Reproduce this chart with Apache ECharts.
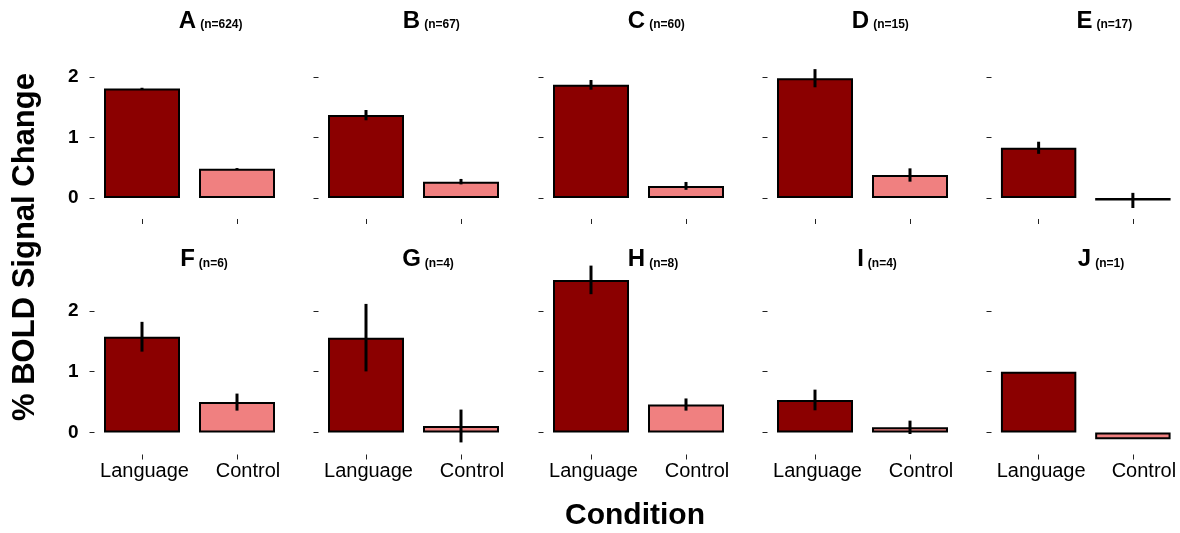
<!DOCTYPE html>
<html>
<head>
<meta charset="utf-8">
<title>% BOLD Signal Change by Condition</title>
<script src="https://cdn.jsdelivr.net/npm/echarts@6/dist/echarts.min.js"></script>
<style>
  html, body { margin: 0; padding: 0; background: #fff; }
  #chart { width: 1180px; height: 533px; }
</style>
</head>
<body>
<div id="chart"></div>
<script>
// ---- data ----
const categories = ['Language', 'Control'];
const panelLetters = ['A', 'B', 'C', 'D', 'E', 'F', 'G', 'H', 'I', 'J'];
const panelCounts = [624, 67, 60, 15, 17, 6, 4, 8, 4, 1];
const languageMean = [1.81, 1.37, 1.87, 1.98, 0.83, 1.575, 1.56, 2.51, 0.535, 1.0];
const languageErr = [0.012, 0.085, 0.08, 0.15, 0.1, 0.245, 0.555, 0.235, 0.17, 0];
const controlMean = [0.485, 0.27, 0.2, 0.38, -0.04, 0.50, 0.107, 0.46, 0.085, -0.11];
const controlErr = [0.01, 0.045, 0.065, 0.11, 0.125, 0.14, 0.27, 0.1, 0.11, 0];
const yTickValues = [0, 1, 2];

// ---- layout ----
const FONT = '"Liberation Sans", Arial, Helvetica, sans-serif';
const LANG_COLOR = '#8B0000';
const CTRL_COLOR = '#F08080';
const colLeft = [94.5, 318.5, 543.5, 767.5, 991.5];
const colWidth = 190;
const rows = [
  { zero: 198, ppu: 60.5, min: -0.347, max: 2.4, titleBase: 29 },
  { zero: 432.5, ppu: 60.8, min: -0.362, max: 2.9, titleBase: 267.5 }
];

const measureCtx = document.createElement('canvas').getContext('2d');
function textWidth(str, font) {
  measureCtx.font = font;
  return measureCtx.measureText(str).width;
}

const grids = [], xAxes = [], yAxes = [], series = [], graphics = [];

panelLetters.forEach((letter, i) => {
  const r = Math.floor(i / 5), c = i % 5;
  const row = rows[r];
  const top = row.zero - row.max * row.ppu;
  const height = (row.max - row.min) * row.ppu;
  grids.push({ left: colLeft[c], top: top, width: colWidth, height: height });

  xAxes.push({
    type: 'category', gridIndex: i, data: categories, position: 'bottom',
    axisLine: { show: false, onZero: false },
    axisTick: { show: true, alignWithLabel: true, length: 5, lineStyle: { color: '#222', width: 1 } },
    axisLabel: {
      show: r === 1, interval: 0, margin: 7, color: '#000', fontSize: 20, fontFamily: FONT,
      // category names sit slightly right of their tick marks
      formatter: (v, idx) => (idx === 0 ? '{l|' : '{c|') + v + '}',
      rich: {
        l: { fontSize: 20, fontFamily: FONT, color: '#000', padding: [0, 0, 0, 5] },
        c: { fontSize: 20, fontFamily: FONT, color: '#000', padding: [0, 0, 0, 22] }
      }
    },
    splitLine: { show: false }
  });

  yAxes.push({
    type: 'value', gridIndex: i, min: row.min, max: row.max,
    axisLine: { show: false },
    axisTick: { show: true, length: 5, customValues: yTickValues, lineStyle: { color: '#222', width: 1 } },
    axisLabel: { show: c === 0, customValues: yTickValues, margin: 16, color: '#000',
      fontSize: 19, fontWeight: 'bold', fontFamily: FONT },
    splitLine: { show: false }
  });

  series.push({
    type: 'bar', xAxisIndex: i, yAxisIndex: i,
    barCategoryGap: '20%',
    itemStyle: { borderColor: '#000', borderWidth: 2 },
    data: [
      { value: languageMean[i], itemStyle: { color: LANG_COLOR } },
      { value: controlMean[i], itemStyle: { color: CTRL_COLOR } }
    ],
    silent: true
  });

  series.push({
    type: 'custom', xAxisIndex: i, yAxisIndex: i, z: 5,
    encode: { x: 0, y: 1 },
    data: [[0, languageMean[i], languageErr[i]], [1, controlMean[i], controlErr[i]]],
    renderItem: (params, api) => {
      const x = api.value(0), m = api.value(1), e = api.value(2);
      if (!e) return null;
      const p1 = api.coord([x, m - e]);
      const p2 = api.coord([x, m + e]);
      return {
        type: 'line',
        shape: { x1: p1[0], y1: p1[1], x2: p2[0], y2: p2[1] },
        style: { stroke: '#000', lineWidth: 3 }
      };
    },
    silent: true
  });

  // panel heading: bold letter followed by the sample size
  const letterFont = 'bold 24px ' + FONT;
  const cx = colLeft[c] + colWidth / 2 - 2;
  const lw = textWidth(letter, letterFont);
  graphics.push({
    type: 'text', x: cx, y: row.titleBase - 0.33 * 24,
    style: { text: letter, font: letterFont, fill: '#000', align: 'center', verticalAlign: 'middle' }
  });
  graphics.push({
    type: 'text', x: cx + lw / 2 + 4, y: row.titleBase - 0.33 * 12,
    style: { text: '(n=' + panelCounts[i] + ')', font: 'bold 12px ' + FONT, fill: '#000',
      align: 'left', verticalAlign: 'middle' }
  });
});

graphics.push({
  type: 'text', x: 25, y: 247, rotation: Math.PI / 2,
  style: { text: '% BOLD Signal Change', font: 'bold 31px ' + FONT, fill: '#000',
    align: 'center', verticalAlign: 'middle' }
});
graphics.push({
  type: 'text', x: 635, y: 516,
  style: { text: 'Condition', font: 'bold 30px ' + FONT, fill: '#000',
    align: 'center', verticalAlign: 'middle' }
});

const chart = echarts.init(document.getElementById('chart'), null, { renderer: 'canvas' });
chart.setOption({
  animation: false,
  backgroundColor: '#fff',
  grid: grids,
  xAxis: xAxes,
  yAxis: yAxes,
  series: series,
  graphic: graphics
});
</script>
</body>
</html>
